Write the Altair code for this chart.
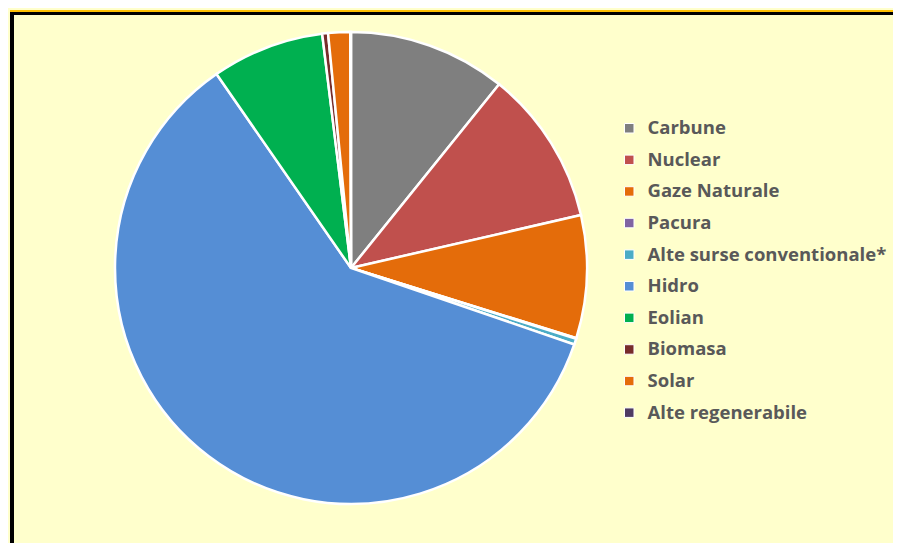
import altair as alt
import pandas as pd

categories = ["Carbune", "Nuclear", "Gaze Naturale", "Pacura", "Alte surse conventionale*",
              "Hidro", "Eolian", "Biomasa", "Solar", "Alte regenerabile"]
shares = [10.8, 10.6, 8.4, 0.05, 0.4, 60.1, 7.7, 0.4, 1.5, 0.05]
colors = ["#7F7F7F", "#C0504D", "#E46C0A", "#8064A2", "#4BACC6",
          "#558ED5", "#00B050", "#772C2A", "#E46C0A", "#4F3B62"]

W, H = 885, 535

df = pd.DataFrame({"sursa": categories, "pondere": shares, "ord": list(range(len(categories)))})

pie = alt.Chart(df).mark_arc(radius=236, stroke="white", strokeWidth=2.5).encode(
    theta=alt.Theta("pondere:Q", stack=True),
    order=alt.Order("ord:Q"),
    x=alt.value(341),
    y=alt.value(258),
    color=alt.Color(
        "sursa:N",
        scale=alt.Scale(domain=categories, range=colors),
        sort=categories,
        legend=alt.Legend(
            title=None,
            orient="none",
            legendX=610,
            legendY=109,
            symbolType="square",
            symbolSize=90,
            symbolStrokeColor="white",
            symbolStrokeWidth=1,
            labelFont="Open Sans",
            labelFontWeight="bold",
            labelFontSize=18.5,
            labelColor="#595959",
            labelOffset=9,
            rowPadding=12.6,
            labelLimit=400,
        ),
    ),
)

base = alt.Chart(pd.DataFrame({"a": [0]}))
left_line = base.mark_rule(color="black", strokeWidth=4).encode(
    x=alt.value(2), y=alt.value(0), y2=alt.value(H))
top_orange = base.mark_rule(color="#FFC000", strokeWidth=2).encode(
    x=alt.value(0), x2=alt.value(W), y=alt.value(1))
top_black = base.mark_rule(color="black", strokeWidth=3).encode(
    x=alt.value(0), x2=alt.value(W), y=alt.value(3.5))

chart = alt.layer(pie, left_line, top_orange, top_black).properties(
    width=W,
    height=H,
    background="#FFFFCC",
    padding=0,
    autosize=alt.AutoSizeParams(type="fit", contains="padding"),
).configure_view(strokeWidth=0)

chart.save("out.html", embed_options={"renderer": "svg", "actions": False})
